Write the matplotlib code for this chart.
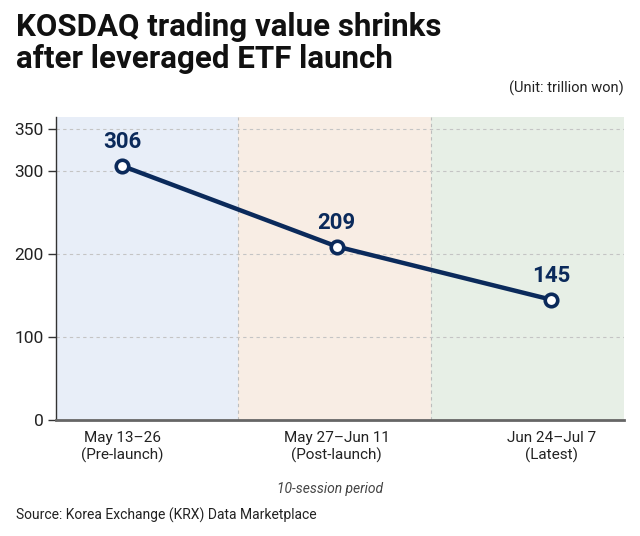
import numpy as np
import matplotlib
matplotlib.use("Agg")
import matplotlib.pyplot as plt

# data
periods = ["May 13\u201326\n(Pre-launch)", "May 27\u2013Jun 11\n(Post-launch)", "Jun 24\u2013Jul 7\n(Latest)"]
values = [306, 209, 145]
yticks = [0, 100, 200, 300, 350]
band_colors = ["#E8EEF8", "#F8EDE4", "#E7EFE6"]

plt.rcParams['font.family'] = ['Roboto', 'DejaVu Sans']

navy = "#0B2A5B"

fig = plt.figure(figsize=(6.4, 5.36), dpi=100)
ax = fig.add_axes([0.0875, 0.2164, 0.8875, 0.5653])

x = np.arange(len(values))
edges = [-0.31, 0.54, 1.44, 2.34]
for i in range(len(values)):
    ax.axvspan(edges[i], edges[i + 1], color=band_colors[i], zorder=0, lw=0)
for e in edges[1:-1]:
    ax.axvline(e, color="#BDBDBD", lw=0.8, ls=(0, (3, 3)), zorder=1)

for t in yticks[1:]:
    ax.axhline(t, color="#C4C4C4", lw=0.8, ls=(0, (3, 3)), zorder=1)

ax.plot(x, values, color=navy, lw=3.2, zorder=3, solid_capstyle='round')
ax.plot(x, values, ls='none', marker='o', ms=9, mfc='white', mec=navy, mew=2.6, zorder=4)
for xi, v in zip(x, values):
    ax.annotate(str(v), (xi, v), xytext=(0, 9), textcoords='offset points',
                ha='center', va='bottom', fontsize=16, fontweight='bold', color=navy)

ax.set_xlim(edges[0], edges[-1])
ax.set_ylim(0, 365)
ax.set_yticks(yticks)
ax.set_yticklabels([str(t) for t in yticks], fontsize=12.5, color="#222222")
ax.set_xticks(x)
ax.set_xticklabels(periods, fontsize=11, color="#222222", linespacing=1.2)
ax.tick_params(axis='x', length=0, pad=8)
ax.tick_params(axis='y', length=6, width=1, color="#333333", pad=3)

for s in ['top', 'right']:
    ax.spines[s].set_visible(False)
ax.spines['left'].set_color("#333333")
ax.spines['left'].set_linewidth(1.0)
ax.spines['bottom'].set_color("#666666")
ax.spines['bottom'].set_linewidth(2.0)

fig.text(0.025, 0.978, "KOSDAQ trading value shrinks\nafter leveraged ETF launch",
         ha='left', va='top', fontsize=22.5, fontweight='bold', color="#111111",
         linespacing=1.08)
fig.text(0.975, 0.835, "(Unit: trillion won)", ha='right', va='center', fontsize=10.5, color="#222222")
fig.text(0.515, 0.087, "10-session period", ha='center', va='center', fontsize=10,
         style='italic', color="#444444")
fig.text(0.025, 0.038, "Source: Korea Exchange (KRX) Data Marketplace", ha='left', va='center',
         fontsize=10, color="#222222")

fig.savefig("out.png", dpi=100, facecolor='white')
